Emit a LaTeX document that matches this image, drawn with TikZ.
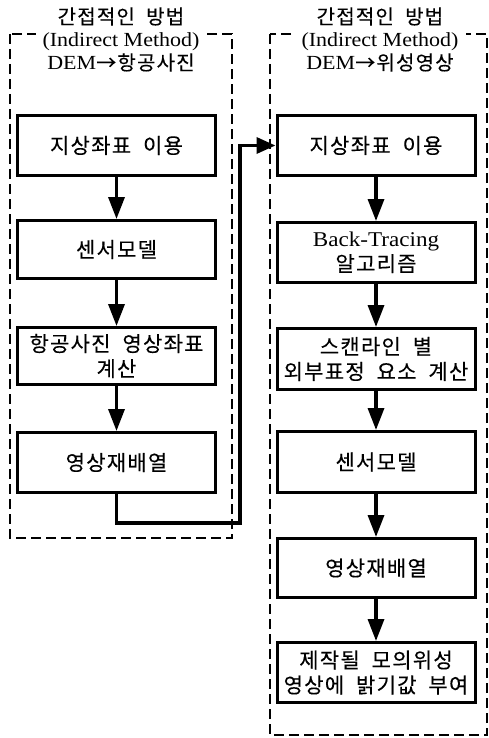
\documentclass[tikz,border=0pt]{standalone}
\usepackage{fontspec}
\setmainfont[FakeStretch=1.1]{Liberation Serif}
\newfontfamily\kr[LetterSpace=6,WordSpace=2,FakeBold=0.2]{Noto Sans CJK KR}
\usetikzlibrary{arrows.meta}
\begin{document}
\begin{tikzpicture}[x=1pt,y=-1pt,
  box/.style={draw, line width=3pt, minimum width=198pt, minimum height=60pt,
    align=center, inner sep=0pt, font=\fontsize{21}{25}\selectfont\kr},
  flow/.style={line width=3.4pt, line join=miter, -{Triangle[width=16pt,length=22pt]}},
  grp/.style={draw, line width=2.8pt, dash pattern=on 10pt off 5pt},
  ttl/.style={fill=white, align=center, inner xsep=7pt, inner ysep=1pt,
    font=\fontsize{20}{23}\selectfont}]
\useasboundingbox (0,0) rectangle (489,738);

% group frames
\draw[grp] (10,34) rectangle (232,538);
\draw[grp] (270,34) rectangle (487,735);

% titles
\node[ttl] (tl) at (121,39.5) {{\kr 간접적인 방법}\\(Indirect Method)\\DEM{\kr →항공사진}};
\node[ttl] (tr) at (380,39.5) {{\kr 간접적인 방법}\\(Indirect Method)\\DEM{\kr →위성영상}};

% left column
\node[box] (l1) at (116.5,145.5) {지상좌표 이용};
\node[box, minimum height=58pt] (l2) at (116.5,249.5) {센서모델};
\node[box, minimum height=57pt] (l3) at (116.5,356) {항공사진 영상좌표\\계산};
\node[box] (l4) at (116.5,462.5) {영상재배열};

% right column
\node[box] (r1) at (376,145.5) {지상좌표 이용};
\node[box] (r2) at (376,252.5) {{\rmfamily Back-Tracing}\\알고리즘};
\node[box, minimum height=61pt] (r3) at (376,359) {스캔라인 별\\외부표정 요소 계산};
\node[box, minimum height=61pt] (r4) at (376,462) {센서모델};
\node[box, minimum height=59pt] (r5) at (376,568) {영상재배열};
\node[box] (r6) at (376,672.5) {제작될 모의위성\\영상에 밝기값 부여};

% arrows
\draw[flow] (l1) -- (l2);
\draw[flow] (l2) -- (l3);
\draw[flow] (l3) -- (l4);
\draw[flow] (r1) -- (r2);
\draw[flow] (r2) -- (r3);
\draw[flow] (r3) -- (r4);
\draw[flow] (r4) -- (r5);
\draw[flow] (r5) -- (r6);

% connector between columns
\coordinate (c1) at (240,523);
\draw[flow, -{Triangle[width=16pt,length=19pt]}] (l4.south) |- (c1) -- (c1 |- r1.west) -- (r1.west);
\end{tikzpicture}
\end{document}
